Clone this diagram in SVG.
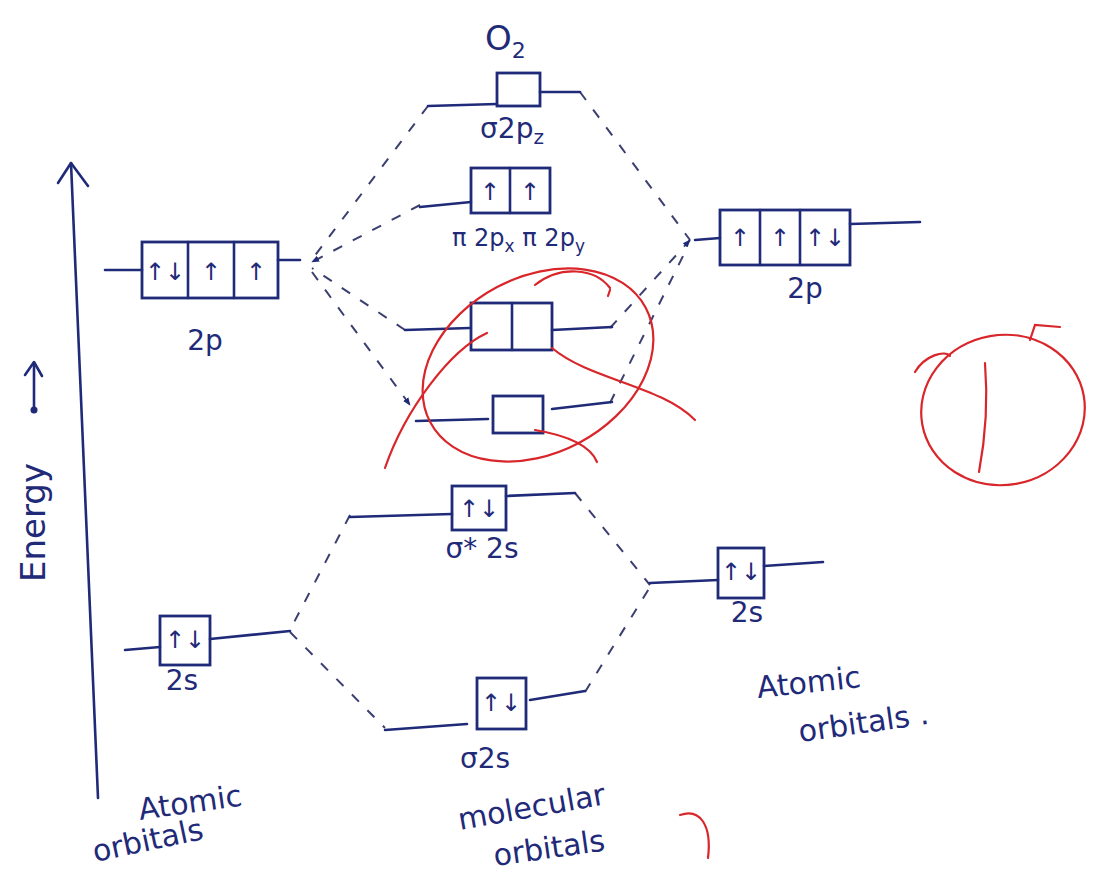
<svg xmlns="http://www.w3.org/2000/svg" width="1098" height="875" viewBox="0 0 1098 875">
<style>
.ink{stroke:#1f2a78;stroke-width:2.6;fill:none;stroke-linecap:round;stroke-linejoin:round}
.box{stroke:#1f2a78;stroke-width:2.8;fill:none}
.dash{stroke:#3a3f70;stroke-width:2;fill:none;stroke-dasharray:10 12}
.red{stroke:#d8262a;stroke-width:2.2;fill:none;stroke-linecap:round}
.t{font-family:"DejaVu Sans","Noto Sans",sans-serif;fill:#1f2a78}
.e{font-family:"DejaVu Sans",sans-serif;fill:#1f2a78;font-size:24px;text-anchor:middle}
.lb{font-size:28px;text-anchor:middle}
</style>
<defs>
<marker id="ah" viewBox="0 0 10 10" refX="9" refY="5" markerWidth="8" markerHeight="8" orient="auto-start-reverse" markerUnits="userSpaceOnUse">
<path d="M0,1 L10,5 L0,9 z" fill="#1f2a78"/>
</marker>
</defs>
<rect width="1098" height="875" fill="#ffffff"/>

<g id="axis">
<line class="ink" x1="98" y1="798" x2="71" y2="163"/>
<path class="ink" d="M58,183 L71,163 L88,186"/>
<text class="t" font-size="34" transform="translate(45,582) rotate(-90)">Energy</text>
<line class="ink" x1="34" y1="410" x2="34" y2="365"/>
<path class="ink" d="M25,375 L34,362 L42,376"/>
<circle cx="34" cy="410" r="3.5" fill="#1f2a78"/>
</g>

<g id="title"><text class="t" x="485" y="50" font-size="34">O<tspan font-size="22" dy="8">2</tspan></text></g>

<g id="connectors">
<path class="dash" d="M428,106 L310,262"/>
<path class="dash" d="M580,92 L690,240"/>
<path class="dash" d="M420,205 L312,262" marker-end="url(#ah)"/>
<path class="dash" d="M610,328 L690,240" marker-end="url(#ah)"/>
<path class="dash" d="M405,330 L312,268"/>
<path class="dash" d="M312,272 L410,405" marker-end="url(#ah)"/>
<path class="dash" d="M610,403 L688,246"/>
<path class="dash" d="M350,515 L290,630"/>
<path class="dash" d="M290,632 L385,728"/>
<path class="dash" d="M575,493 L650,585"/>
<path class="dash" d="M585,692 L650,587"/>
</g>

<g id="sigma2pz">
<rect class="box" x="497" y="73" width="43" height="33"/>
<line class="ink" x1="428" y1="106" x2="497" y2="104"/>
<line class="ink" x1="540" y1="92" x2="580" y2="92"/>
<text class="t lb" x="512" y="138">σ2p<tspan font-size="20" dy="6">z</tspan></text>
</g>

<g id="pi2p">
<rect class="box" x="471" y="168" width="79" height="45"/>
<line class="ink" x1="510" y1="168" x2="510" y2="213"/>
<line class="ink" x1="420" y1="207" x2="471" y2="202"/>
<text class="e" x="490" y="200">↑</text>
<text class="e" x="530" y="200">↑</text>
<text class="t" x="452" y="246" font-size="24">π 2p<tspan font-size="17" dy="6">x</tspan><tspan dy="-6"> π 2p</tspan><tspan font-size="17" dy="6">y</tspan></text>
</g>

<g id="left2p">
<rect class="box" x="142" y="242" width="136" height="56"/>
<line class="ink" x1="188" y1="242" x2="188" y2="298"/>
<line class="ink" x1="234" y1="242" x2="234" y2="298"/>
<line class="ink" x1="105" y1="270" x2="142" y2="270"/>
<line class="ink" x1="278" y1="260" x2="300" y2="260"/>
<text class="e" x="165" y="280">↑↓</text>
<text class="e" x="211" y="280">↑</text>
<text class="e" x="256" y="280">↑</text>
<text class="t lb" x="205" y="350" font-size="34">2p</text>
</g>

<g id="right2p">
<rect class="box" x="720" y="210" width="130" height="55"/>
<line class="ink" x1="760" y1="210" x2="760" y2="265"/>
<line class="ink" x1="800" y1="210" x2="800" y2="265"/>
<line class="ink" x1="850" y1="224" x2="920" y2="222"/>
<line class="ink" x1="695" y1="240" x2="720" y2="238"/>
<text class="e" x="740" y="246">↑</text>
<text class="e" x="780" y="246">↑</text>
<text class="e" x="825" y="246">↑↓</text>
<text class="t lb" x="805" y="298" font-size="32">2p</text>
</g>

<g id="piStar2p">
<rect class="box" x="471" y="303" width="81" height="47"/>
<line class="ink" x1="512" y1="303" x2="512" y2="350"/>
<line class="ink" x1="405" y1="330" x2="470" y2="328"/>
<line class="ink" x1="552" y1="330" x2="612" y2="327"/>
</g>

<g id="sigmaStar2p">
<rect class="box" x="493" y="396" width="50" height="37"/>
<line class="ink" x1="416" y1="421" x2="488" y2="419"/>
<line class="ink" x1="552" y1="409" x2="612" y2="402"/>
</g>

<g id="sigmaStar2s">
<rect class="box" x="452" y="486" width="54" height="44"/>
<line class="ink" x1="350" y1="517" x2="452" y2="514"/>
<line class="ink" x1="506" y1="496" x2="575" y2="493"/>
<text class="e" x="479" y="517">↑↓</text>
<text class="t lb" x="482" y="558" font-size="24">σ* 2s</text>
</g>

<g id="left2s">
<rect class="box" x="160" y="616" width="50" height="49"/>
<line class="ink" x1="125" y1="650" x2="160" y2="647"/>
<line class="ink" x1="210" y1="639" x2="290" y2="631"/>
<text class="e" x="185" y="648">↑↓</text>
<text class="t lb" x="182" y="690" font-size="26">2s</text>
</g>

<g id="right2s">
<rect class="box" x="718" y="548" width="46" height="50"/>
<line class="ink" x1="650" y1="583" x2="718" y2="580"/>
<line class="ink" x1="764" y1="566" x2="823" y2="562"/>
<text class="e" x="741" y="580">↑↓</text>
<text class="t lb" x="747" y="622" font-size="26">2s</text>
</g>

<g id="sigma2s">
<rect class="box" x="477" y="678" width="49" height="51"/>
<line class="ink" x1="385" y1="730" x2="467" y2="724"/>
<line class="ink" x1="530" y1="700" x2="585" y2="691"/>
<text class="e" x="501" y="711">↑↓</text>
<text class="t lb" x="485" y="768" font-size="26">σ2s</text>
</g>

<g id="labels">
<text class="t" x="140" y="820" font-size="30" transform="rotate(-8 140 820)">Atomic</text>
<text class="t" x="95" y="862" font-size="30" transform="rotate(-12 95 862)">orbitals</text>
<text class="t" x="460" y="830" font-size="30" transform="rotate(-10 460 830)">molecular</text>
<text class="t" x="495" y="866" font-size="30" transform="rotate(-8 495 866)">orbitals</text>
<text class="t" x="758" y="698" font-size="30" transform="rotate(-6 758 698)">Atomic</text>
<text class="t" x="800" y="742" font-size="30" transform="rotate(-8 800 742)">orbitals .</text>
</g>

<g id="redMarks">
<ellipse class="red" cx="538" cy="365" rx="122" ry="88" transform="rotate(-28 538 365)"/>
<path class="red" d="M487,333 C450,350 405,410 385,468"/>
<path class="red" d="M552,348 C590,380 660,385 695,420"/>
<path class="red" d="M535,430 C565,435 590,445 597,462"/>
<path class="red" d="M535,285 C560,265 595,268 610,288"/>
<path class="red" d="M610,290 L608,296"/>
<ellipse class="red" cx="1003" cy="410" rx="82" ry="75" transform="rotate(-10 1003 410)"/>
<path class="red" d="M985,363 C988,400 985,440 979,472"/>
<path class="red" d="M915,372 C925,355 945,350 950,356"/>
<path class="red" d="M1030,340 L1035,325 L1060,327"/>
<path class="red" d="M680,815 C700,808 712,825 708,858"/>
</g>
</svg>
